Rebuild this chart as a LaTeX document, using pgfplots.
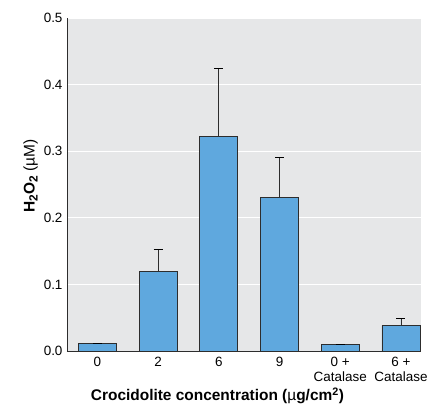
\documentclass[border=0pt]{standalone}
\usepackage{pgfplots}
\pgfplotsset{compat=1.18}
\usepackage{fontspec}
\setmainfont{Liberation Sans}
\definecolor{barblue}{RGB}{95,168,222}
\definecolor{bggray}{RGB}{230,231,232}
\definecolor{edge}{RGB}{45,45,45}
\newcommand{\sub}[1]{\raisebox{-0.35ex}{\fontsize{12}{12}\selectfont #1}}
\begin{document}
\begin{tikzpicture}
\begin{axis}[
  at={(0,0)}, anchor=south west,
  scale only axis,
  width=354bp, height=333bp,
  xmin=-0.5, xmax=5.33,
  ymin=0, ymax=0.5,
  axis x line=bottom, axis y line=left,
  axis line style={-, draw=edge, line width=0.9pt},
  axis background/.style={fill=bggray},
  ymajorgrids, major grid style={white, line width=1pt},
  ytick={0,0.1,0.2,0.3,0.4,0.5},
  yticklabel style={/pgf/number format/fixed, /pgf/number format/fixed zerofill, /pgf/number format/precision=1, font=\fontsize{13.5}{15}\selectfont, xshift=-1bp},
  /pgf/number format/assume math mode=true,
  major tick length=0pt,
  xtick={0,1,2,3,4,5},
  xticklabels={0,2,6,9,{0 +\\Catalase},{6 +\\Catalase}},
  xticklabel style={align=center, font=\fontsize{13.5}{15}\selectfont, yshift=-3bp},
  xlabel={\textbf{Crocidolite concentration (}\textmu\textbf{g/cm\textsuperscript{2})}},
  xlabel style={font=\fontsize{15.5}{16}\selectfont, at={(ticklabel cs:0.425)}, yshift=1bp},
  ylabel={\textbf{H\sub{2}O\sub{2}} (\textmu M)},
  ylabel style={font=\fontsize{15.5}{16}\selectfont, at={(ticklabel cs:0.525)}, yshift=-1bp},
  clip=false,
]
\addplot[ybar, bar width=38bp, fill=barblue, draw=edge, line width=0.8pt,
  error bars/.cd, y dir=plus, y explicit,
  error bar style={draw=edge, line width=0.8pt},
  error mark options={rotate=90, mark size=4.5bp, line width=0.8pt}]
  coordinates {
  (0,0.012) +- (0,0)
  (1,0.120) +- (0,0.032)
  (2,0.322) +- (0,0.102)
  (3,0.230) +- (0,0.061)
  (4,0.010) +- (0,0)
  (5,0.038) +- (0,0.0105)
  };
\end{axis}
\pgfresetboundingbox
\path (-67bp,-61bp) rectangle (364bp,351bp);
\end{tikzpicture}
\end{document}
